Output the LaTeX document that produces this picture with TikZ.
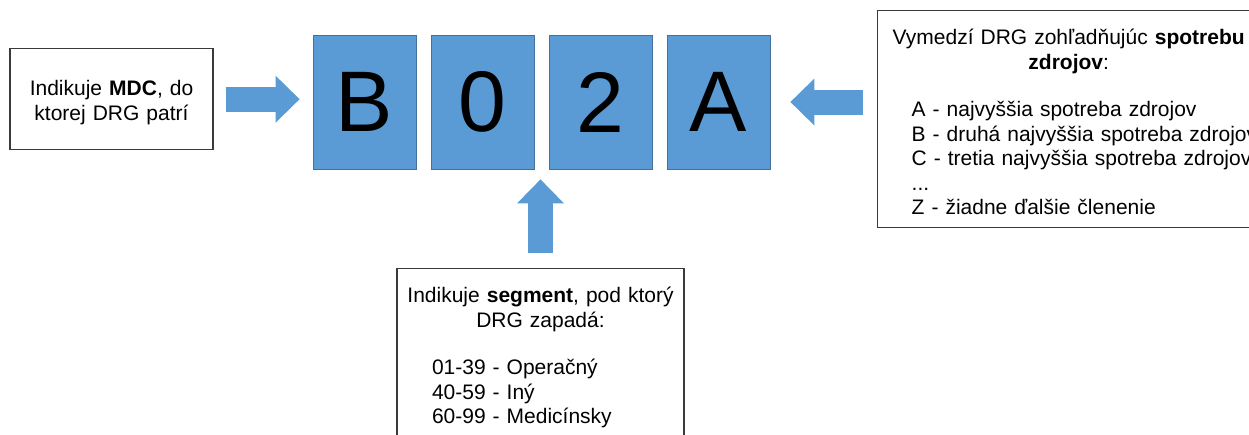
\documentclass[tikz,border=0pt]{standalone}
\usepackage{fontspec}
\setmainfont{Liberation Sans}
\usepackage{tikz}
\usetikzlibrary{positioning}
\usetikzlibrary{arrows.meta}
\definecolor{drgblue}{HTML}{5B9BD5}
\definecolor{drgedge}{HTML}{41719C}
\definecolor{boxline}{HTML}{3A3A3A}
\tikzstyle{every node}+=[inner sep=0pt]
\tikzstyle{letter} = [rectangle, draw=drgedge, fill=drgblue, line width=0.8pt, minimum width=103pt, minimum height=134pt, font=\fontsize{86}{86}\selectfont]
\tikzstyle{info} = [rectangle, draw=boxline, line width=1.4pt, inner xsep=5pt, inner ysep=13pt, font=\fontsize{21}{24.5}\selectfont]
\tikzstyle{fat} = [draw=drgblue, line width=25pt, -{Triangle[length=24pt, width=47pt, line width=0pt]}]

\begin{document}
\begin{tikzpicture}[x=1pt, y=-1pt, node distance=118pt]
  \useasboundingbox (0,0) rectangle (1249,434);
  \clip (0,0) rectangle (1249,434);
  % Place code letters
  \node [letter] (dB) at (364.5,102) {B};
  \node [letter, right of=dB] (d0) {0};
  \node [letter, right of=d0] (d2) {2};
  \node [letter, right of=d2] (dA) {A};
  % Place text boxes
  \node [info, anchor=north, text width=193pt, text height=34pt, text depth=41pt, align=center] (mdc) at (111.5,48)
    {Indikuje \textbf{MDC}, do\\ktorej DRG patrí};
  \node [info, anchor=north west, text width=372pt, text height=21pt, text depth=170pt, align=left] (res) at (877,10)
    {{\centering Vymedzí DRG zohľadňujúc \textbf{spotrebu}\\\textbf{zdrojov}:\par}\vspace{23pt}%
     \hspace*{29pt}\begin{tabular}[t]{@{}l@{}}
       A - najvyššia spotreba zdrojov\\
       B - druhá najvyššia spotreba zdrojov\\
       C - tretia najvyššia spotreba zdrojov\\
       ...\\
       Z - žiadne ďalšie členenie
     \end{tabular}};
  \node [info, anchor=north, text width=277pt, text height=21pt, text depth=150pt, align=left] (seg) at (540.5,268)
    {{\centering Indikuje \textbf{segment}, pod ktorý\\DRG zapadá:\par}\vspace{23pt}%
     \hspace*{30pt}\begin{tabular}[t]{@{}l@{}}
       01-39 - Operačný\\
       40-59 - Iný\\
       60-99 - Medicínsky
     \end{tabular}};
  % Draw arrows
  \path [fat, shorten <=12pt, shorten >=13pt] (mdc.east) -- (mdc.east -| dB.west);
  \path [fat, shorten <=14pt, shorten >=20pt] (res.west |- dA.east) -- (dA.east);
  \path [fat, shorten <=15pt, shorten >=10pt] (seg.north) -- (seg.north |- d0.south);
\end{tikzpicture}
\end{document}
